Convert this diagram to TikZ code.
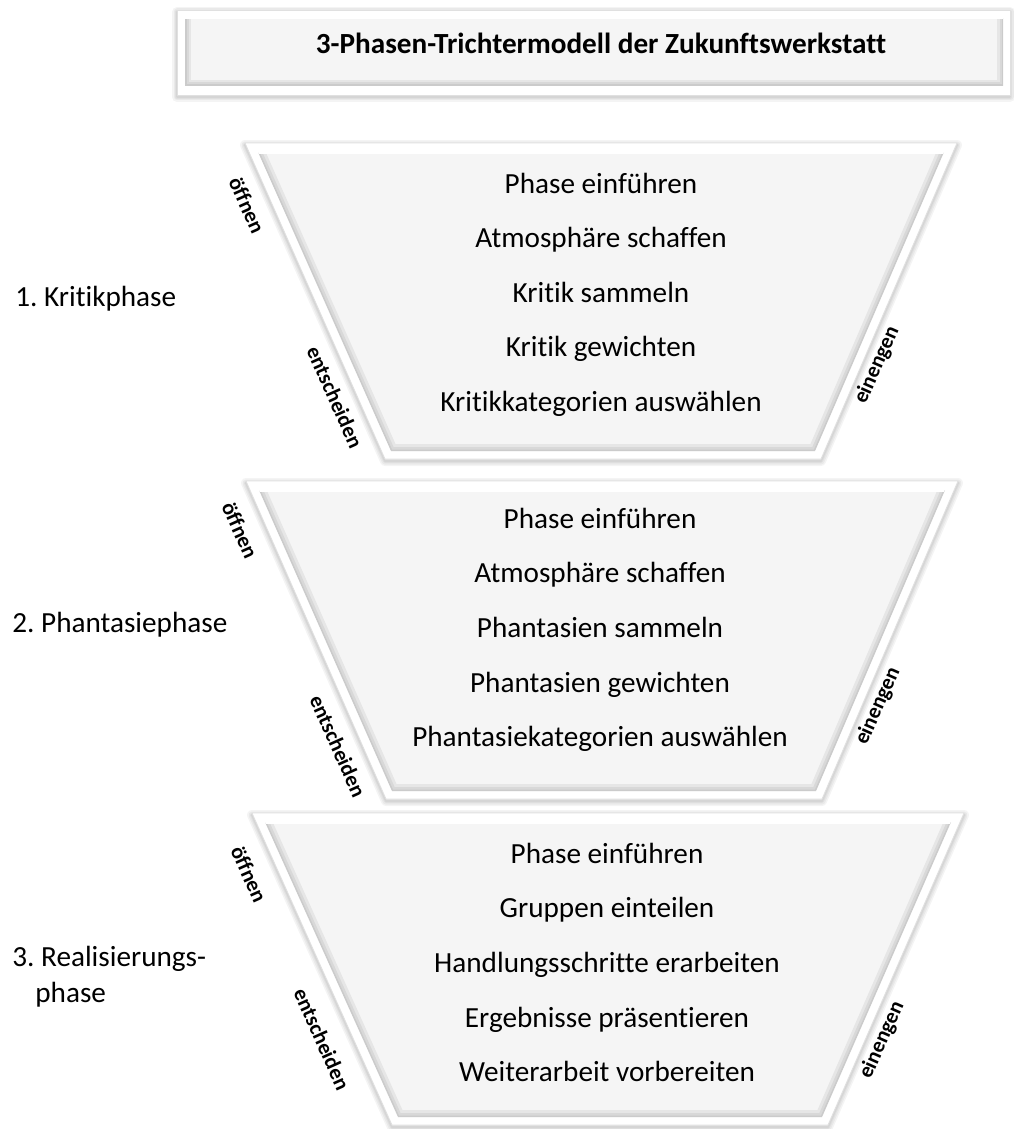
\documentclass[tikz,border=0pt]{standalone}
\usepackage{fontspec}
\setmainfont{Carlito}[Ligatures={NoCommon}]
\frenchspacing

\tikzset{
  halo/.style={draw=black, opacity=0.045, line join=round},
  rim/.style={fill=white, draw=black!12, line width=0.4pt, line join=round},
  face/.style={fill=black!4},
  bevel/.style={draw=black, opacity=0.06, line join=round},
  entry/.style={anchor=base, font=\fontsize{14.6}{17.5}\selectfont},
  sideword/.style={font=\fontsize{10.75}{13}\selectfont\bfseries},
  phasename/.style={anchor=base west, inner sep=0pt, font=\fontsize{14.6}{18}\selectfont, align=left},
}

\begin{document}
\begin{tikzpicture}[x=0.5pt, y=-0.5pt]
  \useasboundingbox (0,0) rectangle (1013,1129);

  % title box
  \foreach \w in {10,7,4,2}
    \draw[halo, line width=\w*0.5pt] (177,12) rectangle (1010,97);
  \draw[rim] (177,10) rectangle (1010,95);
  \fill[face] (185,18) rectangle (1003,86);
  \begin{scope}
    \clip (185,18) rectangle (1003,86);
    \foreach \w in {12,7,3}
      \draw[bevel, line width=\w*0.5pt] (185,18) -- (185,86) -- (1003,86) -- (1003,18);
    \draw[white, line width=1.5pt] (185,18) -- (1003,18);
  \end{scope}
  \node[anchor=base, font=\fontsize{14.6}{17.5}\selectfont\bfseries] (title) at (601,54) {3-Phasen-Trichtermodell der Zukunftswerkstatt};

  % funnels
  \foreach \xl/\yt/\h in {245/143/316, 246/481/318, 252/813/312} {
    \foreach \w in {10,7,4,2}
      \draw[halo, line width=\w*0.5pt] (\xl,\yt+2) -- (\xl+712,\yt+2) -- (\xl+576,\yt+\h+2) -- (\xl+140,\yt+\h+2) -- cycle;
    \draw[rim] (\xl,\yt) -- (\xl+712,\yt) -- (\xl+576,\yt+\h) -- (\xl+140,\yt+\h) -- cycle;
    \fill[face] (\xl+13,\yt+9) -- (\xl+699,\yt+9) -- (\xl+570,\yt+\h-8) -- (\xl+146,\yt+\h-8) -- cycle;
    \begin{scope}
      \clip (\xl+13,\yt+9) -- (\xl+699,\yt+9) -- (\xl+570,\yt+\h-8) -- (\xl+146,\yt+\h-8) -- cycle;
      \foreach \w in {14,8,3}
        \draw[bevel, line width=\w*0.5pt] (\xl+13,\yt+9) -- (\xl+146,\yt+\h-8) -- (\xl+570,\yt+\h-8) -- (\xl+699,\yt+9);
      \draw[white, line width=1.5pt] (\xl+13,\yt+9) -- (\xl+699,\yt+9);
    \end{scope}
  }

  % steps of each phase
  \foreach \t [count=\i] in {Phase einführen, Atmosphäre schaffen, Kritik sammeln, Kritik gewichten, Kritikkategorien auswählen}
    \node[entry] (k\i) at (601,{193+54.6*(\i-1)}) {\t};
  \foreach \t [count=\i] in {Phase einführen, Atmosphäre schaffen, Phantasien sammeln, Phantasien gewichten, Phantasiekategorien auswählen}
    \node[entry] (p\i) at (600,{528+54.7*(\i-1)}) {\t};
  \foreach \t [count=\i] in {Phase einführen, Gruppen einteilen, Handlungsschritte erarbeiten, Ergebnisse präsentieren, Weiterarbeit vorbereiten}
    \node[entry] (r\i) at (607,{863+54.7*(\i-1)}) {\t};

  % phase names
  \node[phasename] (phase1) at (15,306) {1. Kritikphase};
  \node[phasename] (phase2) at (12,632) {2. Phantasiephase};
  \node[phasename, anchor=west] (phase3) at (12,977) {3. Realisierungs-\\\hspace*{11.5pt}phase};

  % words along the funnel sides
  \node[sideword, rotate=-66] (open1) at (247,205) {öffnen};
  \node[sideword, rotate=-66] (decide1) at (335,397) {entscheiden};
  \node[sideword, rotate=66] (narrow1) at (877,365) {einengen};
  \node[sideword, rotate=-66] (open2) at (240,530) {öffnen};
  \node[sideword, rotate=-66] (decide2) at (338,746) {entscheiden};
  \node[sideword, rotate=66] (narrow2) at (878,706) {einengen};
  \node[sideword, rotate=-66] (open3) at (249,874) {öffnen};
  \node[sideword, rotate=-66] (decide3) at (322,1039) {entscheiden};
  \node[sideword, rotate=66] (narrow3) at (882,1040) {einengen};
\end{tikzpicture}
\end{document}
